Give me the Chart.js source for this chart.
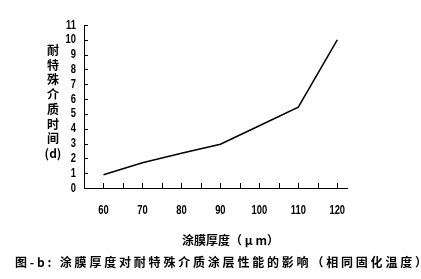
<!DOCTYPE html>
<html>
<head>
<meta charset="utf-8">
<script src="https://cdn.jsdelivr.net/npm/chart.js@4.4.0/dist/chart.umd.min.js"></script>
<style>
  body{margin:0;background:#fff;}
  #wrap{position:relative;width:421px;height:279px;}
  canvas{position:absolute;left:0;top:0;}
  .cjk{position:absolute;font-family:"Noto Sans CJK SC",sans-serif;font-weight:bold;color:#000;white-space:nowrap;}
  #ytitle{left:44px;top:43px;width:18px;font-size:12px;line-height:14.7px;text-align:center;}
  #xtitle{left:182px;top:231px;font-size:12px;}
  #caption{left:15px;top:253px;font-size:12px;letter-spacing:2.8px;}
</style>
</head>
<body>
<div id="wrap">
  <canvas id="chart" width="421" height="279"></canvas>
  <div class="cjk" id="ytitle">耐<br>特<br>殊<br>介<br>质<br>时<br>间<br>(d)</div>
  <div class="cjk" id="xtitle">涂膜厚度（ μ m）</div>
  <div class="cjk" id="caption">图-b: 涂膜厚度对耐特殊介质涂层性能的影响（相同固化温度）</div>
</div>
<script>
// 涂膜厚度 (μm) 与耐特殊介质时间 (d)
var thickness=[60,70,80,90,100,110,120];
var days=[0.9,1.7,2.35,2.95,4.2,5.45,10];
var xTickMarks=[60,65,70,75,80,85,90,95,100,105,110,115,120];
var xTickLabels=[60,70,80,90,100,110,120];
var yTickLabels=[0,1,2,3,4,5,6,7,8,9,10,11];

// narrow digits like the original, squeezed horizontally
function narrowText(c,txt,x,y,align){
  c.save();
  c.translate(x,y);
  c.scale(0.72,1);
  c.textAlign=align;
  c.textBaseline='middle';
  c.fillText(txt,0,0);
  c.restore();
}

// 刻度线朝内 + 刻度文字
var axisDeco={
  id:'axisDeco',
  afterDraw:function(chart){
    var c=chart.ctx,x=chart.scales.x,y=chart.scales.y;
    var a=chart.chartArea;
    c.save();
    c.strokeStyle='#000';
    c.lineWidth=1;
    c.beginPath();
    xTickMarks.forEach(function(v){
      var px=Math.round(x.getPixelForValue(v))+0.5;
      c.moveTo(px,a.bottom);
      c.lineTo(px,a.bottom-5);
    });
    yTickLabels.forEach(function(v){
      var py=Math.round(y.getPixelForValue(v))+0.5;
      c.moveTo(a.left,py);
      c.lineTo(a.left+4,py);
    });
    c.stroke();
    c.fillStyle='#000';
    c.font='bold 13px "Liberation Sans",Arial,sans-serif';
    xTickLabels.forEach(function(v){
      narrowText(c,String(v),x.getPixelForValue(v),a.bottom+22,'center');
    });
    yTickLabels.forEach(function(v){
      narrowText(c,String(v),a.left-8,y.getPixelForValue(v),'right');
    });
    c.restore();
  }
};

new Chart(document.getElementById('chart').getContext('2d'),{
  type:'line',
  data:{
    datasets:[{
      data:thickness.map(function(t,i){return {x:t,y:days[i]};}),
      borderColor:'#000',
      borderWidth:1.5,
      pointRadius:0,
      tension:0,
      fill:false
    }]
  },
  options:{
    responsive:false,
    animation:false,
    layout:{padding:{left:0,top:25,right:74,bottom:0}},
    plugins:{legend:{display:false},tooltip:{enabled:false}},
    scales:{
      x:{
        type:'linear',
        min:55,max:122.5,
        afterBuildTicks:function(s){s.ticks=xTickMarks.map(function(v){return {value:v};});},
        afterFit:function(s){s.height=91;},
        grid:{display:false,drawTicks:false},
        border:{display:true,color:'#000',width:1},
        ticks:{display:false}
      },
      y:{
        min:0,max:11,
        afterBuildTicks:function(s){s.ticks=yTickLabels.map(function(v){return {value:v};});},
        afterFit:function(s){s.width=84;},
        grid:{display:false,drawTicks:false},
        border:{display:true,color:'#000',width:1},
        ticks:{display:false}
      }
    }
  },
  plugins:[axisDeco]
});
</script>
</body>
</html>
